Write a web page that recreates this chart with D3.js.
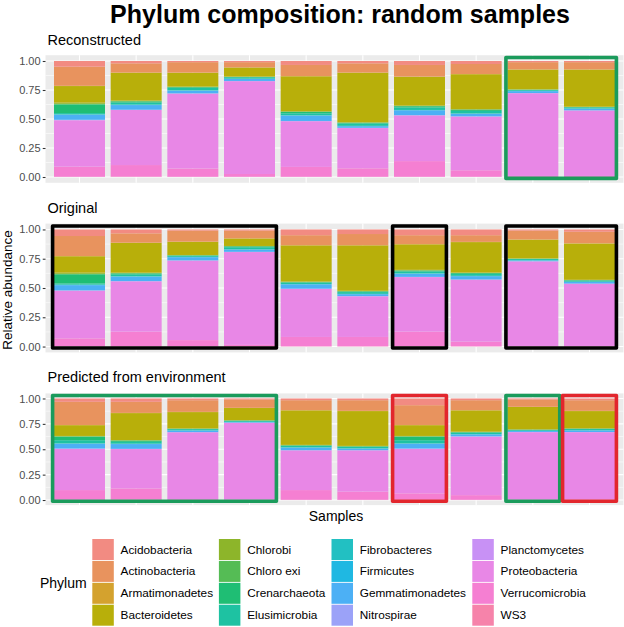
<!DOCTYPE html>
<html><head><meta charset="utf-8">
<script src="https://cdn.jsdelivr.net/npm/d3@7"></script>
<style>
body{margin:0;background:#fff}
svg{display:block}
text{font-family:"Liberation Sans",Arial,Helvetica,sans-serif}
</style>
</head><body><svg id="chart" width="624" height="627"></svg>
<script>
// ---------- data ----------
const phyla = ["Acidobacteria","Actinobacteria","Armatimonadetes","Bacteroidetes",
  "Chlorobi","Chloro exi","Crenarchaeota","Elusimicrobia",
  "Fibrobacteres","Firmicutes","Gemmatimonadetes","Nitrospirae",
  "Planctomycetes","Proteobacteria","Verrucomicrobia","WS3"];
const phylumColors = ["#F28B82","#E8935E","#D4A22E","#B8AF0A",
  "#8DB52A","#55BC55","#1FBE74","#1EC2A2",
  "#22C0C2","#1FB8E2","#4CB0F5","#9BA2F8",
  "#C891F5","#E887E6","#F57FD2","#F683AA"];
const samples = ["S1","S2","S3","S4","S5","S6","S7","S8","S9","S10"];
const yTicks = [0, 0.25, 0.5, 0.75, 1];
const yTickLabels = ["0.00","0.25","0.50","0.75","1.00"];

// rows = samples, columns = phyla (same order as `phyla`)
const reconstructed = [
  [.049,.165,.002,.143,.010,.005,.075,.010,.003,.002,.043,.002,.002,.400,.087,.002],
  [.020,.080,.001,.240,.005,.002,.010,.018,.002,.002,.040,.001,.001,.475,.100,.003],
  [.010,.090,.002,.118,.004,.002,.006,.020,.003,.001,.023,.001,.001,.646,.071,.002],
  [.010,.045,.001,.078,.002,.001,.003,.012,.002,.001,.017,.001,.001,.800,.024,.002],
  [.034,.096,.002,.300,.005,.002,.012,.016,.002,.002,.046,.001,.001,.394,.085,.002],
  [.020,.080,.001,.426,.004,.002,.006,.020,.002,.001,.014,.001,.001,.347,.073,.002],
  [.034,.100,.002,.248,.004,.002,.010,.022,.002,.001,.042,.001,.001,.394,.135,.002],
  [.026,.086,.002,.300,.004,.002,.010,.022,.002,.001,.022,.001,.001,.463,.056,.002],
  [.010,.062,.002,.170,.002,.001,.002,.008,.002,.001,.016,.001,.001,.713,.008,.001],
  [.010,.062,.002,.320,.002,.001,.003,.009,.002,.001,.013,.001,.001,.564,.008,.001]
];
const original = [
  [.056,.171,.002,.140,.010,.004,.078,.010,.003,.002,.044,.002,.002,.406,.068,.002],
  [.033,.080,.002,.254,.004,.002,.008,.016,.002,.002,.038,.001,.001,.430,.124,.003],
  [.010,.094,.002,.112,.002,.001,.003,.010,.002,.001,.027,.001,.001,.679,.054,.001],
  [.010,.066,.001,.064,.002,.001,.008,.017,.002,.001,.019,.001,.001,.793,.012,.002],
  [.049,.085,.002,.308,.004,.002,.004,.012,.002,.001,.037,.001,.001,.410,.080,.002],
  [.039,.095,.002,.388,.003,.002,.006,.015,.002,.001,.016,.001,.001,.347,.080,.002],
  [.049,.076,.002,.218,.004,.002,.008,.016,.002,.001,.027,.001,.001,.466,.124,.003],
  [.049,.057,.002,.260,.003,.002,.007,.016,.002,.001,.028,.001,.001,.529,.040,.002],
  [.010,.075,.002,.160,.002,.001,.003,.009,.002,.001,.006,.001,.001,.722,.004,.001],
  [.020,.098,.002,.310,.002,.001,.003,.010,.002,.001,.013,.001,.001,.531,.004,.001]
];
const predicted = [
  [.033,.228,.002,.106,.004,.002,.036,.030,.003,.002,.047,.002,.002,.405,.096,.002],
  [.033,.109,.002,.265,.004,.002,.012,.018,.002,.002,.047,.001,.001,.388,.110,.004],
  [.017,.115,.002,.161,.002,.001,.004,.011,.002,.001,.015,.001,.001,.658,.008,.001],
  [.012,.080,.002,.120,.002,.001,.003,.010,.002,.001,.005,.001,.001,.755,.004,.001],
  [.017,.098,.002,.340,.003,.002,.005,.014,.002,.001,.025,.001,.001,.391,.096,.002],
  [.017,.105,.002,.343,.003,.002,.005,.014,.002,.001,.015,.001,.001,.407,.080,.002],
  [.066,.195,.002,.106,.004,.002,.036,.030,.003,.002,.047,.002,.002,.437,.064,.002],
  [.017,.098,.002,.210,.003,.002,.005,.014,.002,.001,.019,.001,.001,.577,.046,.002],
  [.010,.072,.002,.220,.002,.001,.003,.008,.002,.001,.009,.001,.001,.663,.004,.001],
  [.017,.105,.002,.170,.002,.001,.004,.011,.002,.001,.015,.001,.001,.663,.004,.001]
];
// highlight boxes: [first sample index, last sample index, colour]
const reconstructedBoxes = [[8, 9, "#1B9B5C"]];
const originalBoxes = [[0, 3, "#000000"], [6, 6, "#000000"], [8, 9, "#000000"]];
const predictedBoxes = [[0, 3, "#1B9B5C"], [6, 6, "#E2262D"], [8, 8, "#1B9B5C"], [9, 9, "#E2262D"]];

// ---------- layout ----------
const svg = d3.select("#chart");
const left = 45.5, right = 623.5;
const panels = [
  {title: "Reconstructed", data: reconstructed, boxes: reconstructedBoxes, top: 55.2, bottom: 182.8, titleY: 44.5},
  {title: "Original", data: original, boxes: originalBoxes, top: 223.6, bottom: 352.4, titleY: 213},
  {title: "Predicted from environment", data: predicted, boxes: predictedBoxes, top: 393.4, bottom: 505.1, titleY: 382}
];

const x = d3.scaleBand().domain(samples).range([left, right]).paddingInner(0.1).paddingOuter(0.15);
const step = x.step(), bw = x.bandwidth();
const center = i => x(samples[i]) + bw / 2;

svg.append("text").attr("x", 340).attr("y", 23).attr("text-anchor", "middle")
  .attr("font-size", 25).attr("font-weight", "bold").attr("fill", "#000")
  .text("Phylum composition: random samples");

const stackKeys = phyla.map((p, i) => i).reverse(); // WS3 at bottom, Acidobacteria on top
const stack = d3.stack().keys(stackKeys).value((row, k) => row[k]);

panels.forEach(p => {
  const y = d3.scaleLinear().domain([-0.05, 1.05]).range([p.bottom, p.top]);
  const g = svg.append("g");
  g.append("text").attr("x", 47.5).attr("y", p.titleY).attr("font-size", 14.5).attr("fill", "#000").text(p.title);
  g.append("rect").attr("x", left).attr("y", p.top).attr("width", right - left).attr("height", p.bottom - p.top).attr("fill", "#EBEBEB");
  [0.125, 0.375, 0.625, 0.875].forEach(v => {
    g.append("line").attr("x1", left).attr("x2", right).attr("y1", y(v)).attr("y2", y(v)).attr("stroke", "#fff").attr("stroke-width", 0.55);
  });
  yTicks.forEach(v => {
    g.append("line").attr("x1", left).attr("x2", right).attr("y1", y(v)).attr("y2", y(v)).attr("stroke", "#fff").attr("stroke-width", 1.1);
  });
  samples.forEach((s, i) => {
    g.append("line").attr("x1", center(i)).attr("x2", center(i)).attr("y1", p.top).attr("y2", p.bottom).attr("stroke", "#fff").attr("stroke-width", 1.1);
  });
  const series = stack(p.data);
  series.forEach(ser => {
    g.append("g").attr("fill", phylumColors[ser.key]).selectAll("rect").data(ser).join("rect")
      .attr("x", (d, i) => x(samples[i])).attr("width", bw)
      .attr("y", d => y(d[1])).attr("height", d => Math.max(0, y(d[0]) - y(d[1])));
  });
  const ax = d3.axisLeft(y).tickValues(yTicks).tickFormat((d, i) => yTickLabels[i]).tickSize(2.75).tickPadding(2.2);
  const axg = g.append("g").attr("transform", `translate(${left},0)`).call(ax);
  axg.select(".domain").remove();
  axg.selectAll(".tick line").attr("stroke", "#333").attr("stroke-width", 1.07);
  axg.selectAll(".tick text").attr("fill", "#4D4D4D").attr("font-size", 11).attr("font-family", "Liberation Sans,Arial,Helvetica,sans-serif");
  p.boxes.forEach(b => {
    const x0 = center(b[0]) - 0.475 * step, x1 = center(b[1]) + 0.475 * step;
    g.append("rect").attr("x", x0).attr("width", x1 - x0)
      .attr("y", y(1.03)).attr("height", y(-0.012) - y(1.03))
      .attr("fill", "none").attr("stroke", b[2]).attr("stroke-width", 3.6).attr("stroke-linejoin", "round");
  });
});

svg.append("text").attr("transform", "translate(12,290) rotate(-90)").attr("text-anchor", "middle")
  .attr("font-size", 13.5).attr("fill", "#000").text("Relative abundance");
svg.append("text").attr("x", 336).attr("y", 521).attr("text-anchor", "middle")
  .attr("font-size", 14).attr("fill", "#000").text("Samples");

// legend
const legCols = [92.3, 218.9, 331.5, 472.3];
const legTop = 539, keyW = 21.5, keyH = 21, rowH = 21.9;
svg.append("text").attr("x", 40).attr("y", legTop + 2 * rowH + 5).attr("font-size", 14).attr("fill", "#000").text("Phylum");
phyla.forEach((ph, i) => {
  const col = Math.floor(i / 4), row = i % 4;
  const kx = legCols[col], ky = legTop + row * rowH;
  svg.append("rect").attr("x", kx).attr("y", ky).attr("width", keyW).attr("height", keyH).attr("fill", phylumColors[i]);
  svg.append("text").attr("x", kx + 28.3).attr("y", ky + keyH / 2 + 4).attr("font-size", 11.8).attr("fill", "#000").text(ph);
});
</script>
</body></html>
